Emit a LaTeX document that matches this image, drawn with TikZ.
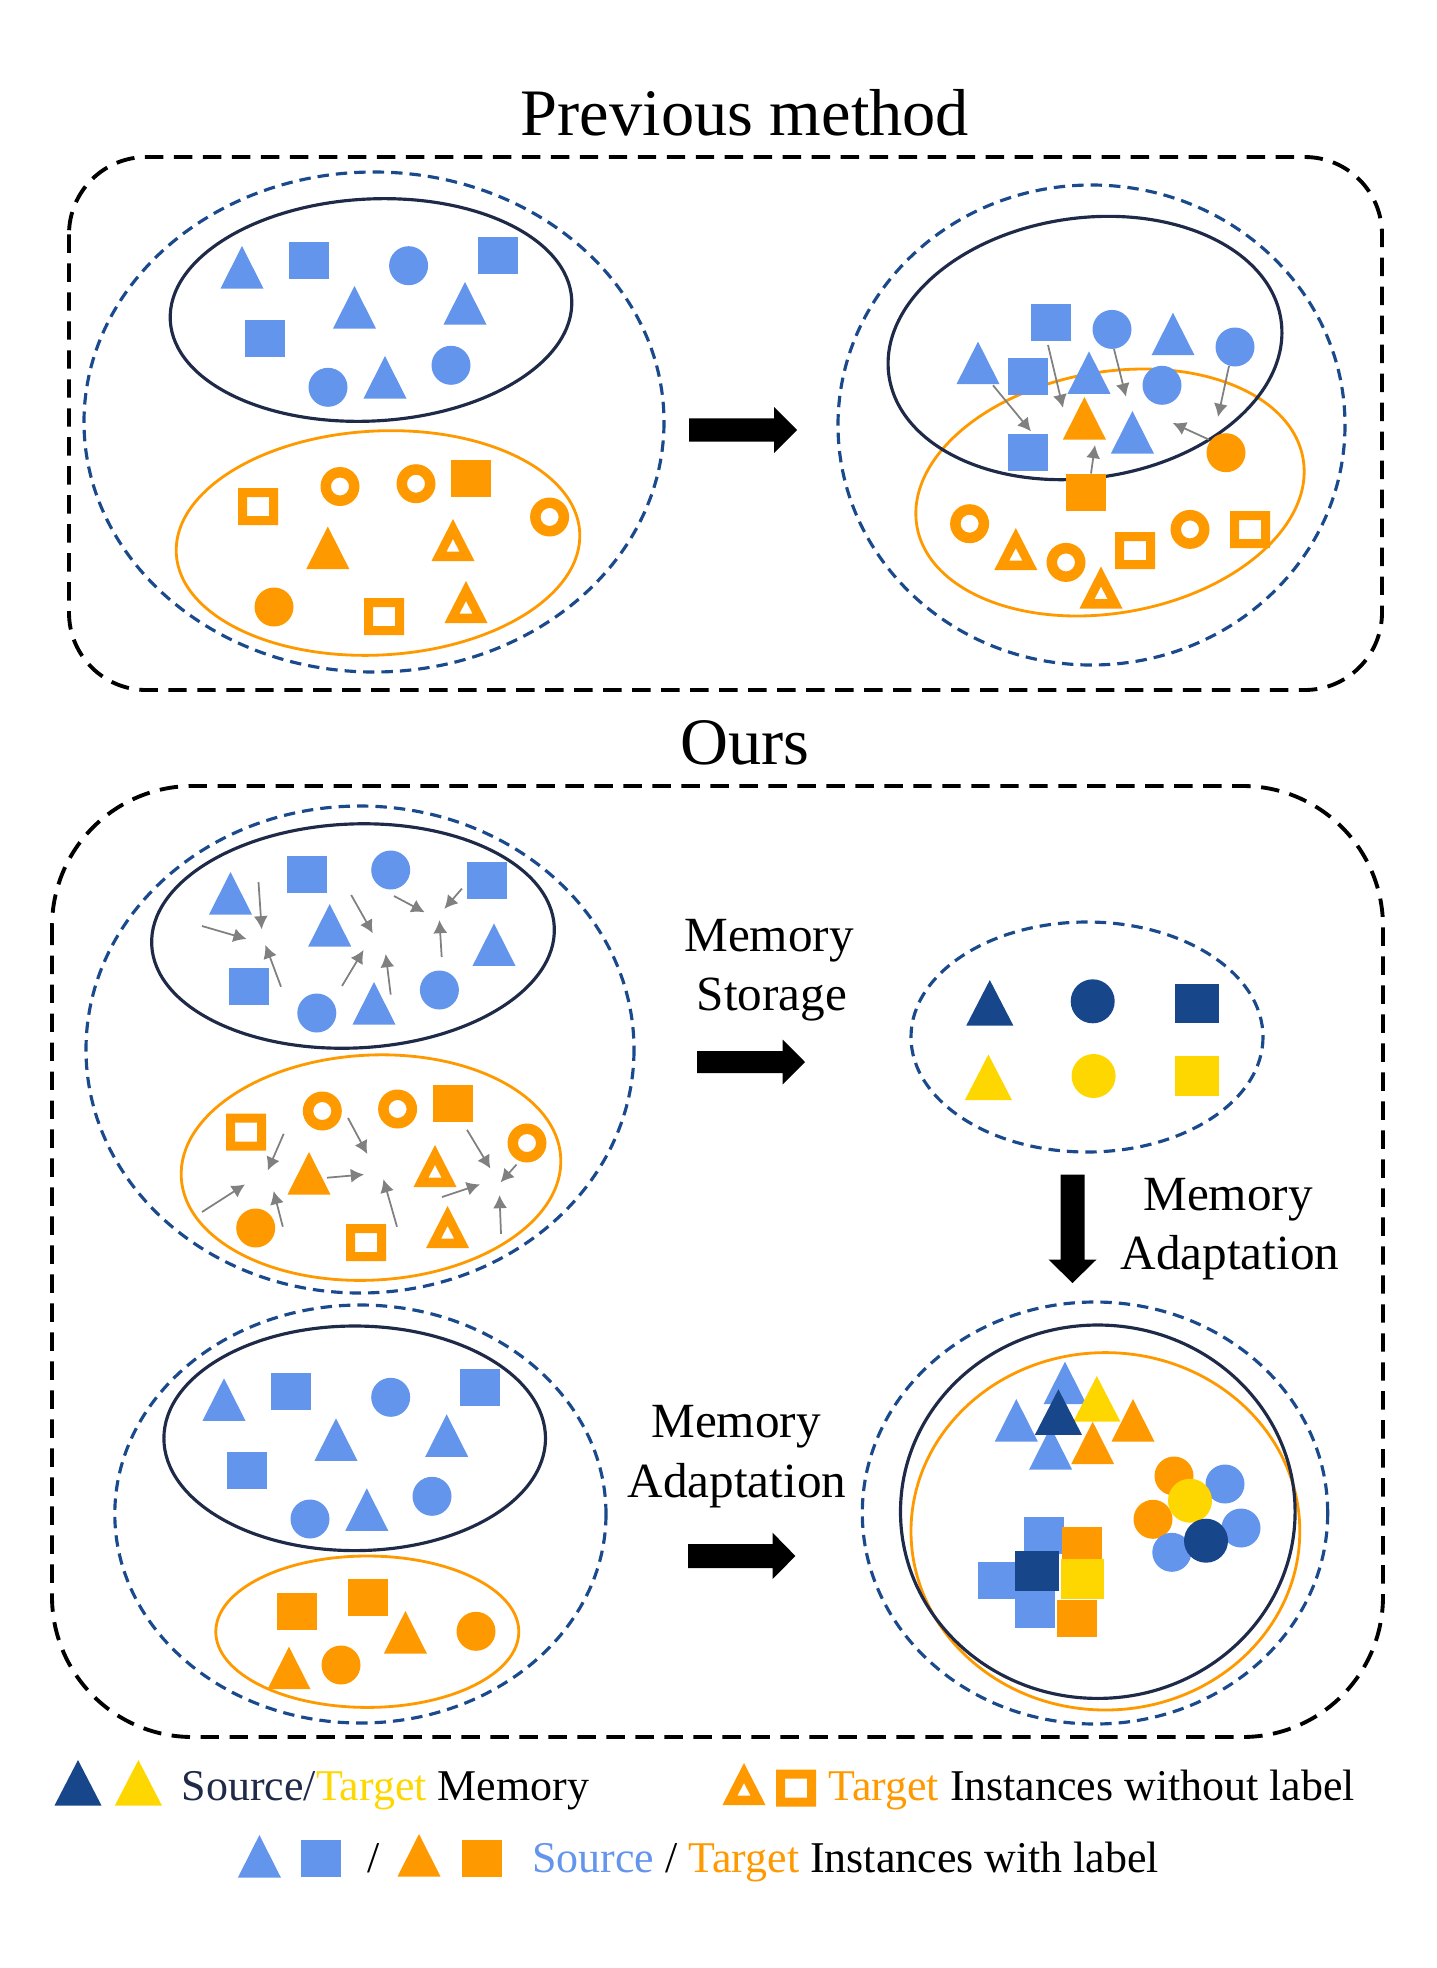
\documentclass[tikz,border=0pt]{standalone}
\usepackage{fontspec}
\setmainfont{Liberation Serif}
\usetikzlibrary{arrows.meta}
\definecolor{srcblue}{HTML}{6495ED}
\definecolor{tgtor}{HTML}{FF9900}
\definecolor{memnavy}{HTML}{17468A}
\definecolor{memyel}{HTML}{FFD700}
\definecolor{ellnavy}{HTML}{1F2A48}
\definecolor{dashnavy}{HTML}{1A4A8C}
\definecolor{agray}{HTML}{808080}
% small shapes
\newcommand{\TriF}[3]{\fill[#1] (#2,#3) -- ({#2+21.5},{#3+42.5}) -- ({#2-21.5},{#3+42.5}) -- cycle;}
\newcommand{\TriH}[3]{\fill[#1,even odd rule] (#2,#3) -- ({#2+21.5},{#3+42}) -- ({#2-21.5},{#3+42}) -- cycle ({#2},{#3+20}) -- ({#2+6.5},{#3+32.5}) -- ({#2-6.5},{#3+32.5}) -- cycle;}
\newcommand{\SqF}[3]{\fill[#1] (#2,#3) rectangle ({#2+40},{#3+37});}
\newcommand{\SqH}[3]{\fill[#1,even odd rule] (#2,#3) rectangle ({#2+40},{#3+37}) ({#2+9},{#3+9}) rectangle ({#2+31},{#3+28});}
\newcommand{\CirF}[3]{\fill[#1] (#2,#3) circle[radius=19.5];}
\newcommand{\CirH}[3]{\fill[#1,even odd rule] (#2,#3) circle[radius=19.5] (#2,#3) circle[radius=9];}
% memory (larger) shapes
\newcommand{\TriM}[3]{\fill[#1] (#2,#3) -- ({#2+23.5},{#3+45.5}) -- ({#2-23.5},{#3+45.5}) -- cycle;}
\newcommand{\SqM}[3]{\fill[#1] (#2,#3) rectangle ({#2+43.5},{#3+39.5});}
\newcommand{\CirM}[3]{\fill[#1] (#2,#3) circle[radius=22];}
\begin{document}
\begin{tikzpicture}[x=0.02cm,y=-0.02cm,
  panel/.style={draw=black,line width=2.2pt,dash pattern=on 10.5pt off 6pt},
  domdash/.style={draw=dashnavy,line width=1.8pt,dash pattern=on 6.5pt off 4pt},
  srcell/.style={draw=ellnavy,line width=1.8pt},
  tgtell/.style={draw=tgtor,line width=1.6pt},
  garrow/.style={draw=agray,line width=1pt,-{Latex[length=7.5pt,width=8pt]}},
  blockarrow/.style={fill=black},
  title/.style={font=\fontsize{37.8}{45}\selectfont,anchor=base,inner sep=0pt},
  lab/.style={font=\fontsize{28}{34}\selectfont,anchor=base,inner sep=0pt},
  leg/.style={font=\fontsize{25}{30}\selectfont,anchor=base west,inner sep=0pt},
]
\useasboundingbox (0,0) rectangle (1437,1968);

%================ Previous method ================
\node[title] (tprev) at (745,135.5) {Previous method};
\draw[panel,rounded corners=44pt] (69,157) rectangle (1382,690);

% left domain
\draw[domdash] (374,422) ellipse[x radius=290,y radius=250];
\draw[srcell,rotate around={3:(371,310)}] (371,310) ellipse[x radius=201,y radius=111];
\draw[tgtell,rotate around={3:(378,543)}] (378,543) ellipse[x radius=202,y radius=112];

\TriF{srcblue}{242}{246}
\SqF{srcblue}{288.5}{242}
\CirF{srcblue}{408.6}{265.7}
\SqF{srcblue}{478}{237}
\TriF{srcblue}{354.5}{286}
\TriF{srcblue}{465}{282}
\SqF{srcblue}{245}{320}
\CirF{srcblue}{328}{387.3}
\TriF{srcblue}{385}{356}
\CirF{srcblue}{451}{365.3}

\SqH{tgtor}{238}{488}
\CirH{tgtor}{340}{486.5}
\CirH{tgtor}{416}{483.7}
\SqF{tgtor}{451}{459.5}
\CirH{tgtor}{549.6}{517}
\TriF{tgtor}{327.8}{526.5}
\TriH{tgtor}{453}{519}
\CirF{tgtor}{274}{607}
\SqH{tgtor}{364}{598}
\TriH{tgtor}{466}{581}

% arrow
\fill[blockarrow] (689,418.3) -- (774,418.3) -- (774,407) -- (797,430) -- (774,453) -- (774,441.7) -- (689,441.7) -- cycle;

% right domain
\draw[domdash] (1091.5,425) ellipse[x radius=253.5,y radius=240];
\draw[tgtell,rotate around={10:(1110,492.5)}] (1110,492.5) ellipse[x radius=196,y radius=120.5];
\draw[srcell,rotate around={8:(1085,348)}] (1085,348) ellipse[x radius=198,y radius=130];

\SqF{srcblue}{1031}{303.5}
\CirF{srcblue}{1112}{329.4}
\TriF{srcblue}{1173}{312.7}
\CirF{srcblue}{1235}{347}
\TriF{srcblue}{978}{341.6}
\SqF{srcblue}{1008}{358}
\TriF{srcblue}{1089}{351.4}
\CirF{srcblue}{1162}{385.3}
\TriF{tgtor}{1084.4}{397}
\TriF{srcblue}{1132.4}{411}
\SqF{srcblue}{1008}{434}
\CirF{tgtor}{1226}{452.7}
\SqF{tgtor}{1066}{473.5}
\CirH{tgtor}{969.6}{523.7}
\TriH{tgtor}{1015.8}{528}
\CirH{tgtor}{1066}{562.4}
\SqH{tgtor}{1115}{532}
\TriH{tgtor}{1101}{566.5}
\CirH{tgtor}{1190}{529.4}
\SqH{tgtor}{1230}{511}

\draw[garrow] (993,385.3) -- (1031,431.4);
\draw[garrow] (1048,345) -- (1063,407.8);
\draw[garrow] (1114,349) -- (1126,396.7);
\draw[garrow] (1229,366) -- (1218,417);
\draw[garrow] (1209,439.6) -- (1172.7,423);
\draw[garrow] (1091,473.5) -- (1095,445);

%================ Ours ================
\node[title] (tours) at (745,764) {Ours};
\draw[panel,rounded corners=80pt] (52,786) rectangle (1383,1737);

% upper-left domain
\draw[domdash] (360,1049.5) ellipse[x radius=274,y radius=243.5];
\draw[srcell,rotate around={2.5:(353,936)}] (353,936) ellipse[x radius=201.5,y radius=112];
\draw[tgtell,rotate around={3:(371,1167.6)}] (371,1167.6) ellipse[x radius=190,y radius=112.5];

\TriF{srcblue}{230.5}{872}
\SqF{srcblue}{287}{856}
\CirF{srcblue}{390.7}{870}
\SqF{srcblue}{467}{862}
\TriF{srcblue}{329.7}{904}
\TriF{srcblue}{494}{923.4}
\SqF{srcblue}{229}{968}
\CirF{srcblue}{316.8}{1013}
\TriF{srcblue}{374}{982}
\CirF{srcblue}{439.4}{990}

\draw[garrow] (258.5,882) -- (261.7,929.3);
\draw[garrow] (202,926) -- (246.6,939);
\draw[garrow] (281,986.7) -- (265.4,945);
\draw[garrow] (351.2,895) -- (372.8,933.3);
\draw[garrow] (394,896) -- (424.7,912.3);
\draw[garrow] (461.9,888.6) -- (444.4,908.8);
\draw[garrow] (441.7,957) -- (439.4,920);
\draw[garrow] (342,986) -- (363.6,950);
\draw[garrow] (390.7,994.6) -- (385.7,954);

\SqH{tgtor}{226}{1113.5}
\CirH{tgtor}{322.3}{1111}
\CirH{tgtor}{397.6}{1109}
\SqF{tgtor}{433}{1085}
\CirH{tgtor}{527}{1143}
\TriF{tgtor}{309}{1152}
\TriH{tgtor}{435}{1145}
\CirF{tgtor}{255.7}{1228}
\SqH{tgtor}{346}{1224}
\TriH{tgtor}{447.6}{1206}

\draw[garrow] (283.7,1133.8) -- (267.7,1170.5);
\draw[garrow] (348,1118) -- (367.3,1154);
\draw[garrow] (327,1177.7) -- (364,1174.5);
\draw[garrow] (202,1212) -- (245,1184.4);
\draw[garrow] (282.8,1226.7) -- (273.6,1191);
\draw[garrow] (397,1226.7) -- (383.4,1179.2);
\draw[garrow] (467,1129.8) -- (490.4,1168.6);
\draw[garrow] (516.5,1164.6) -- (500.5,1182.4);
\draw[garrow] (442,1197) -- (480,1184.4);
\draw[garrow] (501,1233.8) -- (499.5,1195);

% memory storage
\node[lab] (ms1) at (769,951) {Memory};
\node[lab] (ms2) at (772,1010) {Storage};
\fill[blockarrow] (697,1051) -- (782.6,1051) -- (782.6,1039.5) -- (805,1062) -- (782.6,1084.5) -- (782.6,1073) -- (697,1073) -- cycle;

\draw[domdash] (1087,1037) ellipse[x radius=176,y radius=115];
\TriM{memnavy}{989.8}{980}
\CirM{memnavy}{1092.7}{1001.3}
\SqM{memnavy}{1175}{983.5}
\TriM{memyel}{988.4}{1054.5}
\CirM{memyel}{1093.6}{1076}
\SqM{memyel}{1175}{1056}

% memory adaptation (down)
\fill[blockarrow] (1060.5,1174.5) -- (1084.5,1174.5) -- (1084.5,1259.5) -- (1096.5,1259.5) -- (1072.5,1283) -- (1048.5,1259.5) -- (1060.5,1259.5) -- cycle;
\node[lab] (ma1) at (1228,1210) {Memory};
\node[lab] (ma2) at (1230,1269.4) {Adaptation};

% lower-left domain
\draw[domdash] (360.4,1514) ellipse[x radius=245.6,y radius=209];
\draw[srcell] (354.7,1438.3) ellipse[x radius=190.8,y radius=112.3];
\draw[tgtell] (367.3,1631.7) ellipse[x radius=151.5,y radius=75.7];

\TriF{srcblue}{224}{1378.3}
\SqF{srcblue}{271}{1373}
\CirF{srcblue}{390.7}{1397.3}
\SqF{srcblue}{460}{1369}
\TriF{srcblue}{336}{1418.3}
\TriF{srcblue}{446.7}{1414.3}
\SqF{srcblue}{226.8}{1452.3}
\CirF{srcblue}{310}{1519}
\TriF{srcblue}{366.8}{1488.3}
\CirF{srcblue}{432}{1496.3}

\SqF{tgtor}{276.9}{1593}
\SqF{tgtor}{348}{1579}
\TriF{tgtor}{405.4}{1611}
\CirF{tgtor}{476}{1631.3}
\TriF{tgtor}{289}{1646.7}
\CirF{tgtor}{341}{1665}

\node[lab] (mb1) at (736,1437) {Memory};
\node[lab] (mb2) at (737,1497) {Adaptation};
\fill[blockarrow] (688,1544) -- (772.6,1544) -- (772.6,1532.7) -- (795.4,1556) -- (772.6,1579) -- (772.6,1568) -- (688,1568) -- cycle;

% adapted domain
\draw[domdash] (1095,1513) ellipse[x radius=232.7,y radius=211];
\draw[tgtell] (1105.4,1531.3) ellipse[x radius=194.4,y radius=178.7];
\draw[srcell] (1097.8,1511.7) ellipse[x radius=197.3,y radius=186.7];

\TriF{srcblue}{1065}{1361.7}
\TriF{srcblue}{1016.3}{1399}
\TriF{srcblue}{1050.6}{1427}
\TriM{memyel}{1096.8}{1376}
\TriM{memnavy}{1058.4}{1389.3}
\TriF{tgtor}{1133}{1399}
\TriF{tgtor}{1092.7}{1421.7}

\SqF{srcblue}{1024}{1517}
\SqF{tgtor}{1062}{1527}
\SqF{srcblue}{978}{1562.3}
\SqF{srcblue}{1015}{1590.7}
\SqF{tgtor}{1057}{1600}
\SqM{memnavy}{1015}{1551}
\SqM{memyel}{1060.6}{1559}

\CirF{tgtor}{1174}{1476}
\CirF{srcblue}{1225}{1484}
\CirF{tgtor}{1153}{1519.3}
\CirF{srcblue}{1241}{1528}
\CirF{srcblue}{1171.8}{1552.3}
\CirM{memyel}{1190}{1500.7}
\CirM{memnavy}{1206}{1540.7}

%================ Legend ================
\TriM{memnavy}{78}{1760}
\TriM{memyel}{138.4}{1760}
\node[leg] (l1) at (181.5,1800) {\textcolor{ellnavy}{Source/}\textcolor{memyel}{Target} Memory};
\TriH{tgtor}{744}{1763}
\SqH{tgtor}{776}{1769.5}
\node[leg] (l2) at (828,1800) {\textcolor{tgtor}{Target} Instances without label};

\TriF{srcblue}{259.4}{1835}
\SqF{srcblue}{300.6}{1840}
\node[font=\fontsize{25}{30}\selectfont,anchor=base,inner sep=0pt] (lslash) at (374,1872) {/};
\TriF{tgtor}{419}{1834}
\SqF{tgtor}{462}{1840}
\node[leg] (l3) at (532,1872) {\textcolor{srcblue}{Source} / \textcolor{tgtor}{Target} Instances with label};
\end{tikzpicture}
\end{document}
